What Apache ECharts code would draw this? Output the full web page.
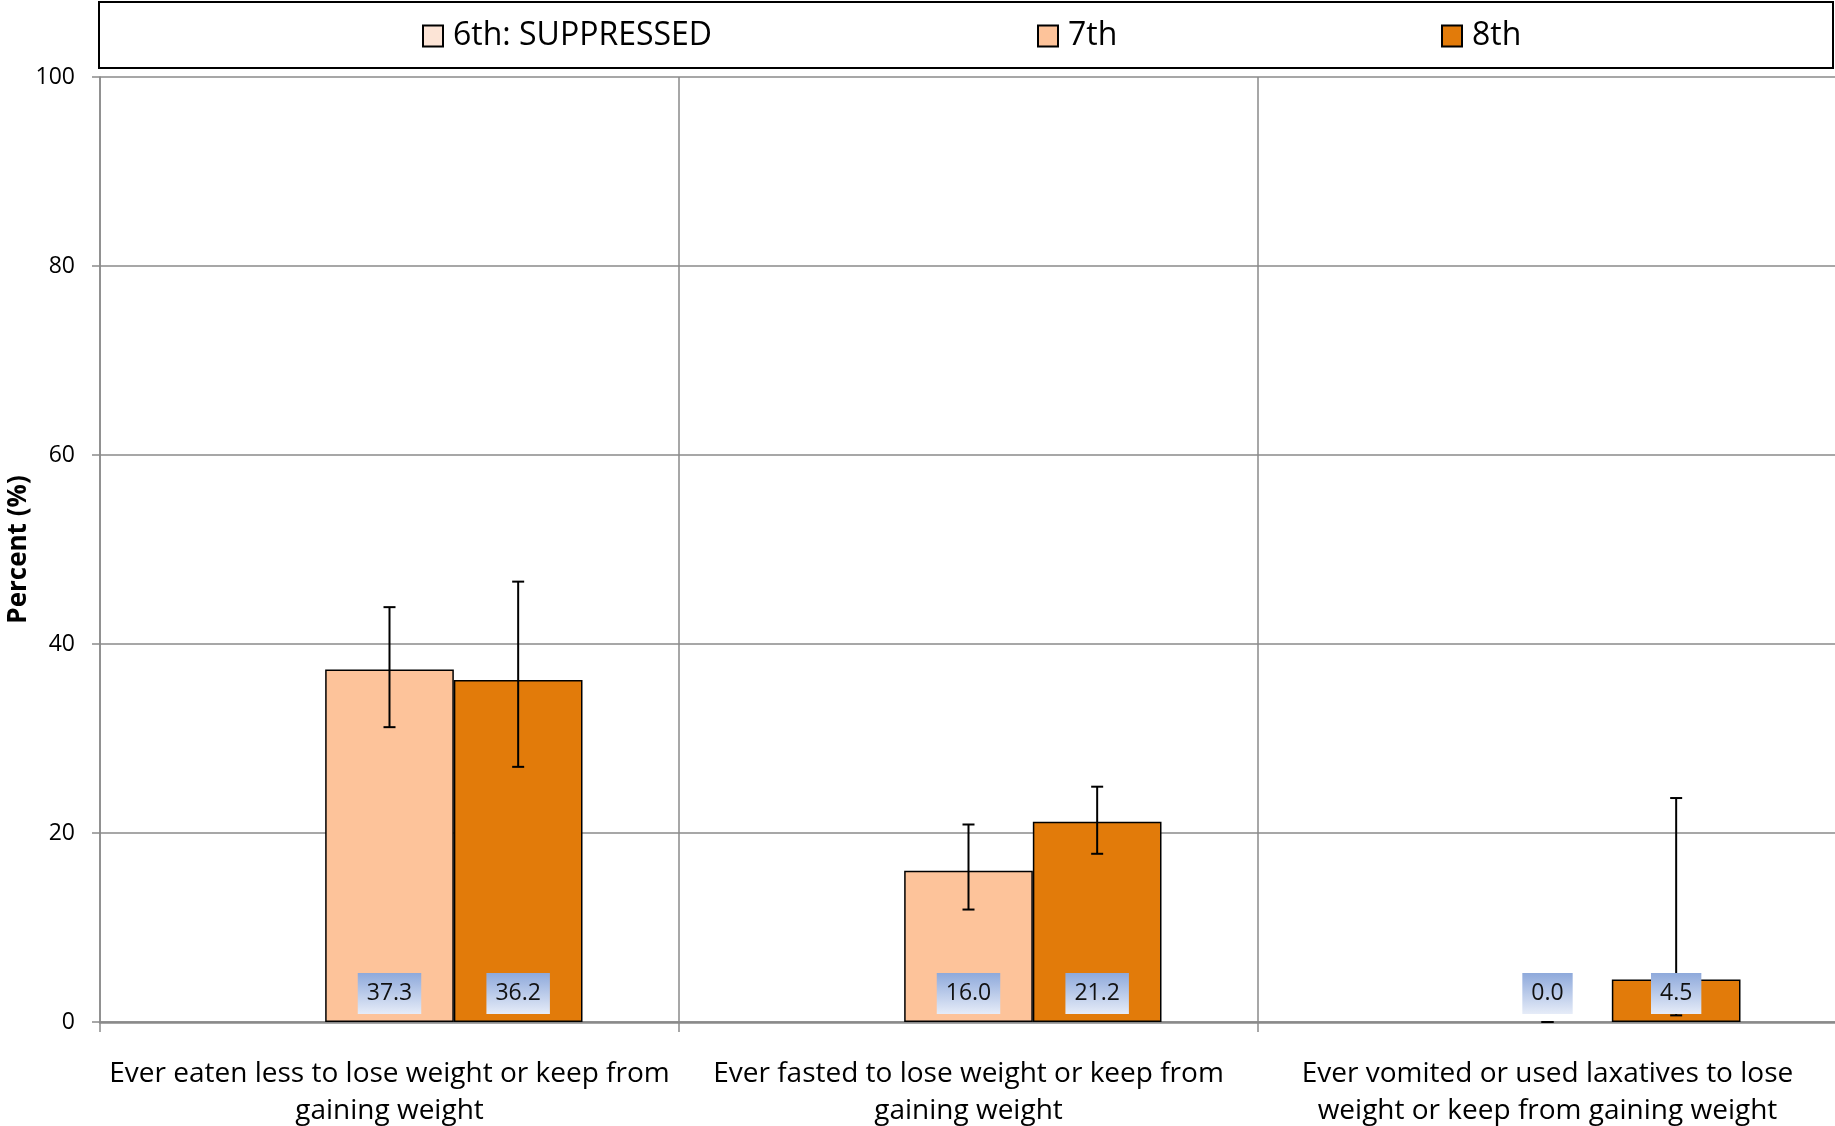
<!DOCTYPE html>
<html>
<head>
<meta charset="utf-8">
<script src="https://cdn.jsdelivr.net/npm/echarts@6/dist/echarts.min.js"></script>
<style>
html,body{margin:0;padding:0;background:#fff;}
#chart{width:1835px;height:1126px;}
</style>
</head>
<body>
<div id="chart"></div>
<script>
const categories = [
  'Ever eaten less to lose weight or keep from\ngaining weight',
  'Ever fasted to lose weight or keep from\ngaining weight',
  'Ever vomited or used laxatives to lose\nweight or keep from gaining weight'
];
const seriesNames = ['6th: SUPPRESSED', '7th', '8th'];
const grade6 = [null, null, null];
const grade7 = [37.3, 16.0, 0.0];
const grade8 = [36.2, 21.2, 4.5];
const grade7Low = [31.2, 11.9, 0.0];
const grade7High = [43.9, 20.9, 0.0];
const grade8Low = [27.0, 17.8, 0.7];
const grade8High = [46.6, 24.9, 23.7];
const yMin = 0, yMax = 100, yStep = 20;

const colors = ['#FCE4D6', '#FDC39A', '#E27B0A'];
const FONT = 'Open Sans';
const nSeries = 3;
const catGapFrac = 1 / 3;

function barCenter(api, catIdx, sIdx) {
  const cx = api.coord([catIdx, 0])[0];
  const band = api.size([1, 0])[0];
  const bw = band * (1 - catGapFrac) / nSeries;
  return cx + (sIdx - (nSeries - 1) / 2) * bw;
}

function barItems(vals) {
  return vals.map(v => (v === 0 ? {value: v, itemStyle: {borderWidth: 0}} : v));
}

const errData = [];
const lblData = [];
[[grade7, grade7Low, grade7High, 1], [grade8, grade8Low, grade8High, 2]].forEach(([vals, lo, hi, s]) => {
  vals.forEach((v, i) => {
    if (v !== null) {
      errData.push([i, lo[i], hi[i], s]);
      lblData.push([i, v, s]);
    }
  });
});
grade6.forEach((v, i) => { if (v !== null) lblData.push([i, v, 0]); });

const chart = echarts.init(document.getElementById('chart'), null, {renderer: 'canvas'});
const option = {
  animation: false,
  textStyle: {fontFamily: FONT},
  grid: {left: 100, top: 77, right: -2, bottom: 104, containLabel: false, outerBoundsMode: 'none'},
  graphic: [{
    type: 'rect', shape: {x: 99, y: 2, width: 1734, height: 66},
    style: {fill: 'none', stroke: '#000', lineWidth: 2}
  }],
  legend: [
    {data: [seriesNames[0]], left: 422},
    {data: [seriesNames[1]], left: 1037},
    {data: [seriesNames[2]], left: 1441}
  ].map(l => Object.assign({
    top: 20, padding: 0, icon: 'rect', itemWidth: 20, itemHeight: 21,
    textStyle: {fontFamily: FONT, fontSize: 32, color: '#000', padding: [0, 0, 0, 5]}
  }, l)),
  xAxis: {
    type: 'category', data: categories,
    axisLine: {show: true, lineStyle: {color: '#8a8a8a', width: 2.5}},
    axisTick: {show: true, length: 10, interval: 0, lineStyle: {color: '#8a8a8a', width: 1.5}},
    splitLine: {show: true, interval: 0, lineStyle: {color: '#8a8a8a', width: 1.5}},
    axisLabel: {interval: 0, margin: 34, fontSize: 28, lineHeight: 37, color: '#000', fontFamily: FONT}
  },
  yAxis: {
    type: 'value', min: yMin, max: yMax, interval: yStep,
    name: 'Percent (%)', nameLocation: 'middle', nameRotate: 90, nameGap: 68,
    nameMoveOverlap: false,
    nameTextStyle: {fontFamily: FONT, fontSize: 26, fontWeight: 'bold', color: '#000'},
    axisLine: {show: true, lineStyle: {color: '#8a8a8a', width: 1.5}},
    axisTick: {show: true, length: 8, lineStyle: {color: '#8a8a8a', width: 1.5}},
    splitLine: {show: true, lineStyle: {color: '#8a8a8a', width: 1.5}},
    axisLabel: {margin: 25, fontSize: 23, color: '#000', fontFamily: FONT}
  },
  series: [
    {name: seriesNames[0], type: 'bar', data: grade6},
    {name: seriesNames[1], type: 'bar', data: barItems(grade7)},
    {name: seriesNames[2], type: 'bar', data: barItems(grade8)}
  ].map((s, i) => Object.assign({
    barGap: '0%', barCategoryGap: (catGapFrac * 100).toFixed(4) + '%', z: 2,
    itemStyle: {color: colors[i], borderColor: '#000', borderWidth: 1.5}
  }, s)).concat([
    {
      type: 'custom', name: 'err', z: 3, data: errData, silent: true,
      renderItem: function (params, api) {
        const x = barCenter(api, api.value(0), api.value(3));
        const yLo = api.coord([api.value(0), api.value(1)])[1];
        const yHi = api.coord([api.value(0), api.value(2)])[1];
        const cap = 6;
        const st = {stroke: '#000', lineWidth: 2};
        return {type: 'group', children: [
          {type: 'line', shape: {x1: x, y1: yLo, x2: x, y2: yHi}, style: st},
          {type: 'line', shape: {x1: x - cap, y1: yLo, x2: x + cap, y2: yLo}, style: st},
          {type: 'line', shape: {x1: x - cap, y1: yHi, x2: x + cap, y2: yHi}, style: st}
        ]};
      }
    },
    {
      type: 'custom', name: 'lbl', z: 4, data: lblData, silent: true,
      renderItem: function (params, api) {
        const x = barCenter(api, api.value(0), api.value(2));
        const y0 = api.coord([api.value(0), 0])[1];
        return {
          type: 'text', x: x, y: y0 - 8,
          style: {
            text: api.value(1).toFixed(1),
            fill: '#111', font: '23px "Open Sans"',
            align: 'center', verticalAlign: 'bottom', lineHeight: 23,
            padding: [9, 9, 9, 9],
            backgroundColor: new echarts.graphic.LinearGradient(0, 0, 0, 1, [
              {offset: 0, color: '#8EA9DB'}, {offset: 1, color: '#E6ECF8'}
            ])
          }
        };
      }
    }
  ])
};
chart.setOption(option);
</script>
</body>
</html>
